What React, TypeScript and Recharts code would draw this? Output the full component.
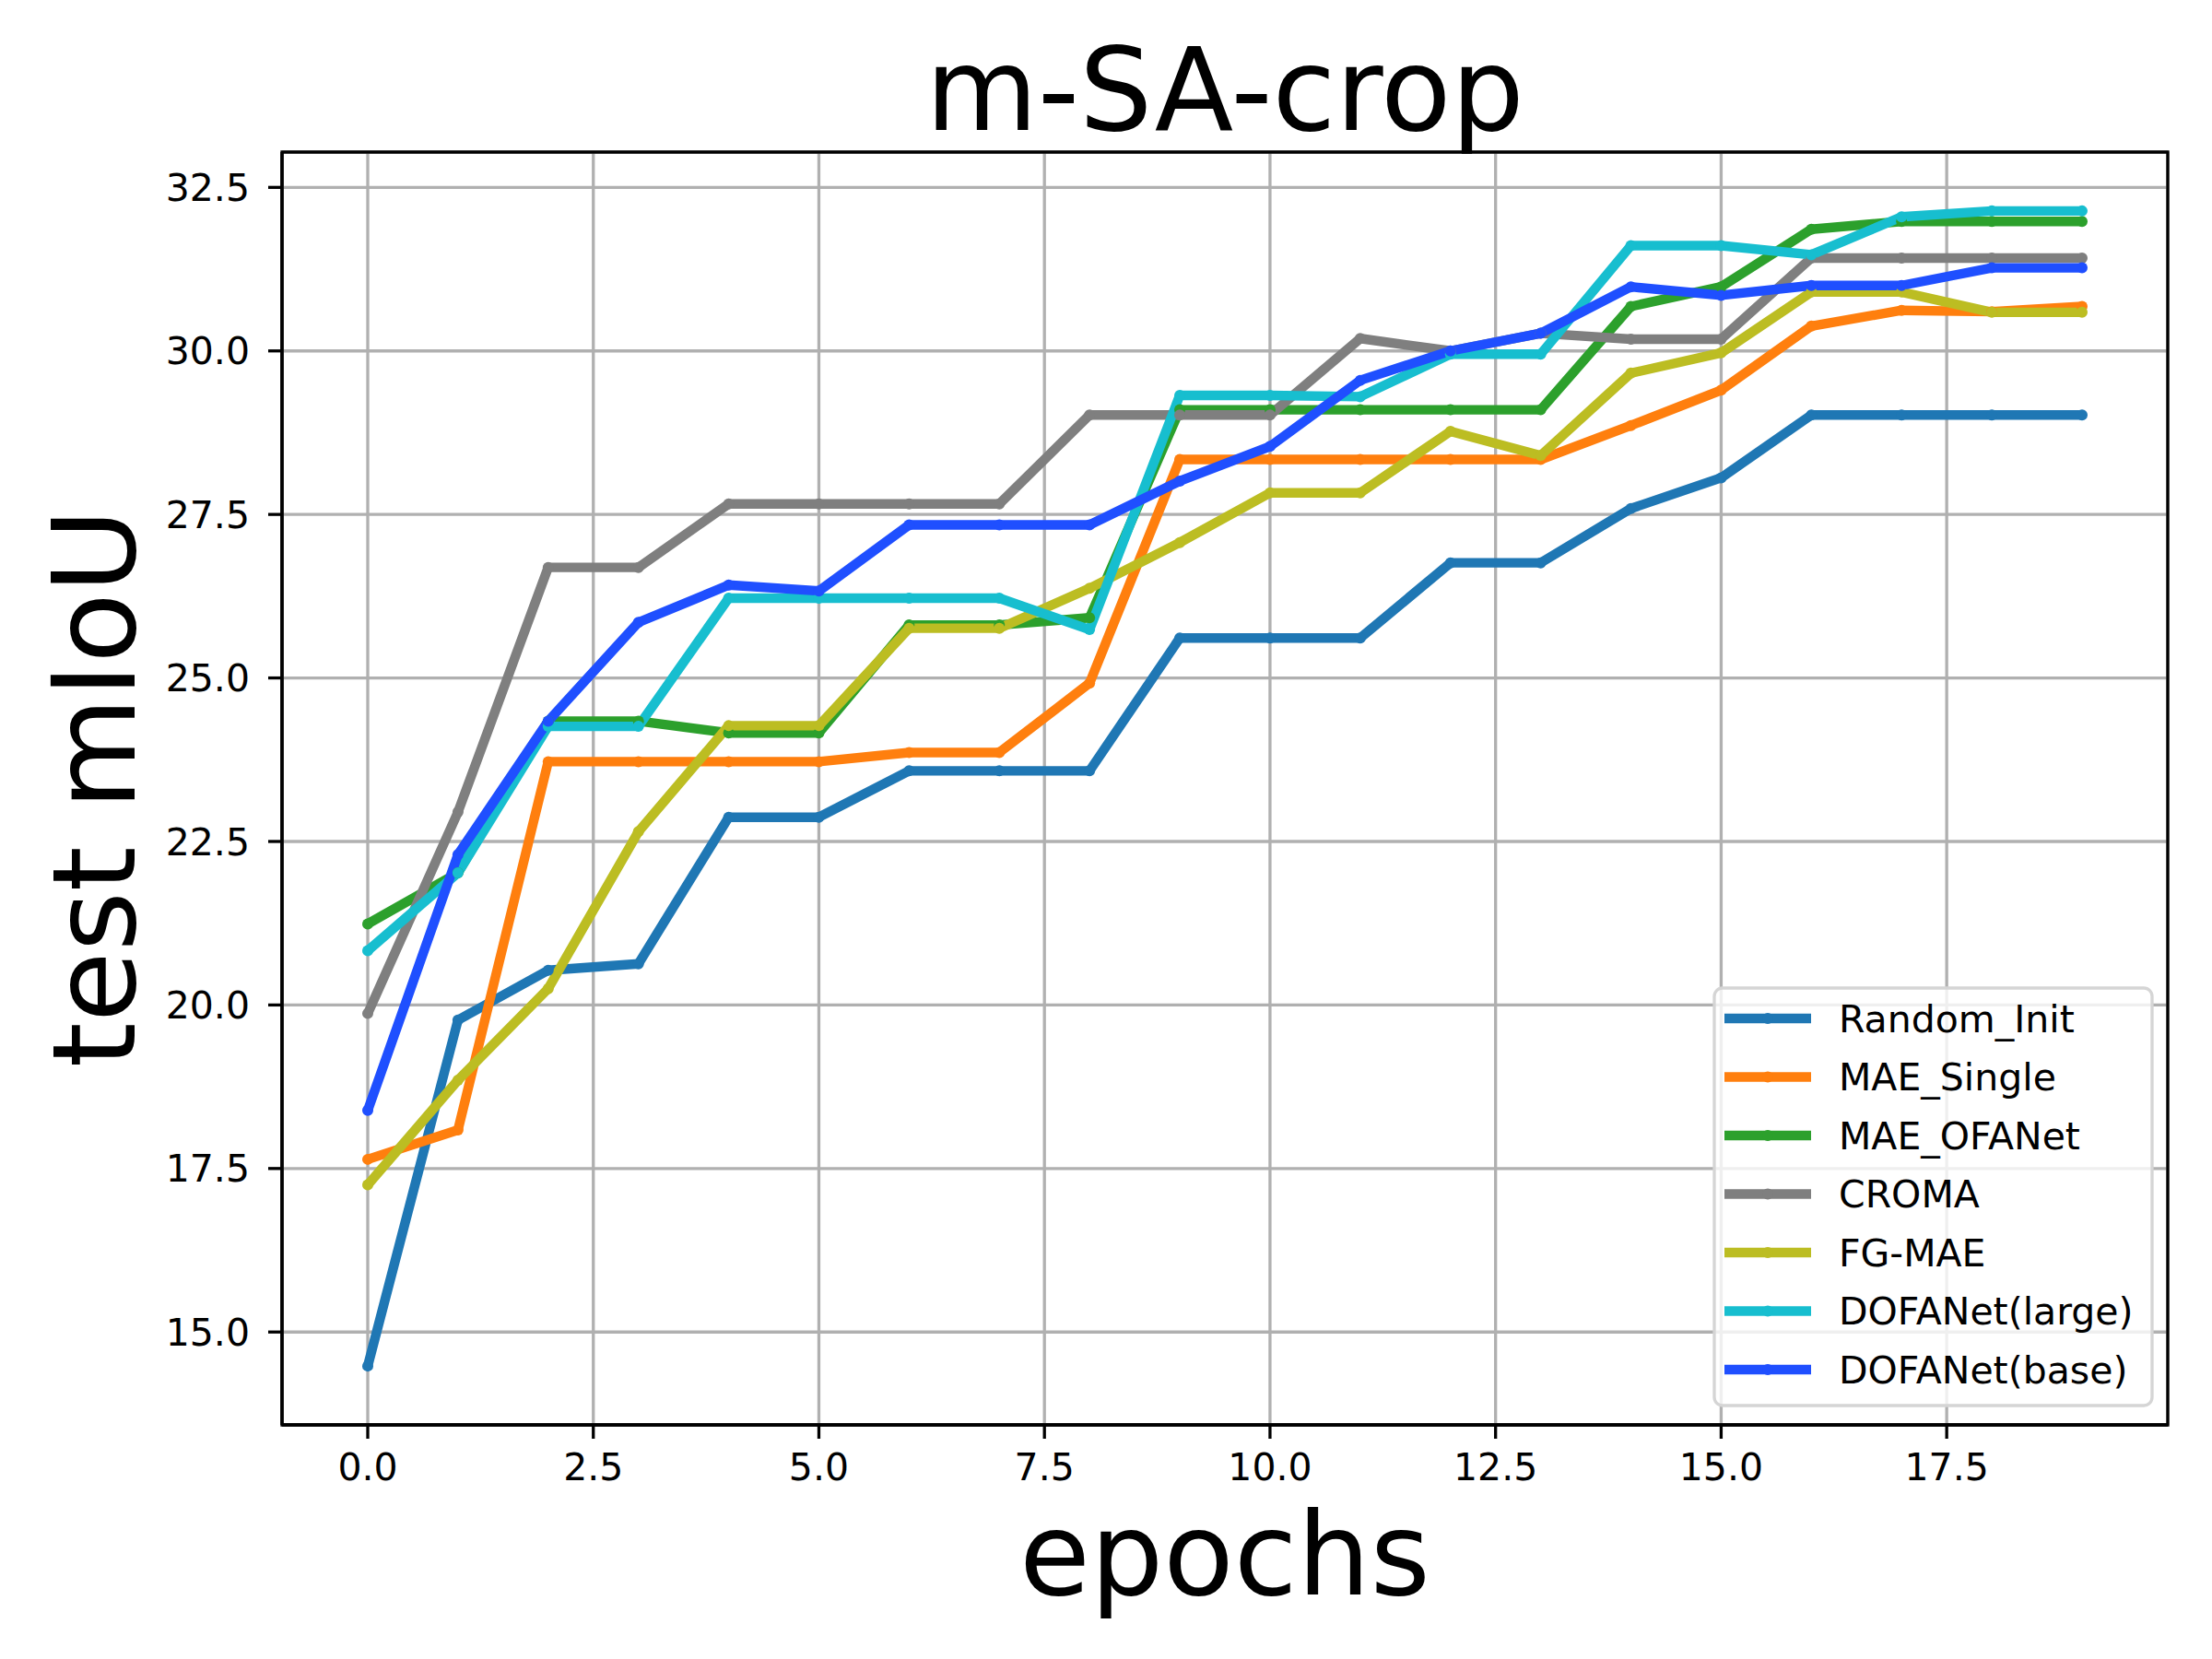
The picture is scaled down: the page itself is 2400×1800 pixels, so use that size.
import { CartesianGrid, Line, LineChart, ReferenceArea, XAxis, YAxis } from "recharts"

const epochs = Array.from({ length: 20 }, (_, i) => i)

const randomInit = [14.48, 19.77, 20.53, 20.63, 22.87, 22.87, 23.58, 23.58, 23.58, 25.61, 25.61, 25.61, 26.76, 26.76, 27.59, 28.06, 29.02, 29.02, 29.02, 29.02]
const maeSingle = [17.64, 18.09, 23.72, 23.72, 23.72, 23.72, 23.86, 23.86, 24.92, 28.34, 28.34, 28.34, 28.34, 28.34, 28.86, 29.4, 30.38, 30.62, 30.6, 30.68]
const maeOfanet = [21.24, 22.02, 24.34, 24.34, 24.16, 24.16, 25.81, 25.81, 25.92, 29.1, 29.1, 29.1, 29.1, 29.1, 30.68, 30.98, 31.86, 31.98, 31.98, 31.98]
const croma = [19.87, 22.95, 26.69, 26.69, 27.66, 27.66, 27.66, 27.66, 29.02, 29.02, 29.02, 30.19, 30.0, 30.27, 30.18, 30.18, 31.42, 31.42, 31.42, 31.42]
const fgMae = [17.25, 18.85, 20.25, 22.65, 24.27, 24.27, 25.76, 25.76, 26.37, 27.07, 27.83, 27.83, 28.77, 28.4, 29.66, 29.97, 30.9, 30.9, 30.59, 30.59]
const dofaLarge = [20.83, 22.02, 24.26, 24.26, 26.22, 26.22, 26.22, 26.22, 25.74, 29.32, 29.32, 29.3, 29.95, 29.95, 31.61, 31.61, 31.47, 32.05, 32.14, 32.14]
const dofaBase = [18.39, 22.3, 24.34, 25.85, 26.42, 26.33, 27.34, 27.34, 27.34, 28.01, 28.54, 29.55, 30.0, 30.27, 30.98, 30.85, 31.0, 31.0, 31.27, 31.27]

const xTicks = [0, 2.5, 5, 7.5, 10, 12.5, 15, 17.5]
const yTicks = [15, 17.5, 20, 22.5, 25, 27.5, 30, 32.5]

const series = [
  { key: "Random_Init", values: randomInit, color: "#1f77b4" },
  { key: "MAE_Single", values: maeSingle, color: "#ff7f0e" },
  { key: "MAE_OFANet", values: maeOfanet, color: "#2ca02c" },
  { key: "CROMA", values: croma, color: "#7f7f7f" },
  { key: "FG-MAE", values: fgMae, color: "#bcbd22" },
  { key: "DOFANet(large)", values: dofaLarge, color: "#17becf" },
  { key: "DOFANet(base)", values: dofaBase, color: "#1f4fff" },
]

const data = epochs.map((epoch, i) => {
  const row: Record<string, number> = { epoch }
  series.forEach((s) => {
    row[s.key] = s.values[i]
  })
  return row
})

const font = "DejaVu Sans"
const X_DOMAIN = [-0.95, 19.95]
const Y_DOMAIN = [13.58, 33.04]

export default function App() {
  return (
    <div style={{ position: "absolute", left: 0, top: 0, width: 2400, height: 1800, background: "#fff", fontFamily: font }}>
      <LineChart
        width={2400}
        height={1800}
        data={data}
        margin={{ top: 165, right: 48, bottom: 104, left: 156 }}
      >
        <CartesianGrid stroke="#b0b0b0" strokeWidth={3.3} />
        <XAxis
          dataKey="epoch"
          type="number"
          domain={X_DOMAIN}
          ticks={xTicks}
          allowDataOverflow
          height={150}
          tickFormatter={(v) => v.toFixed(1)}
          tick={{ fill: "#000", fontSize: 41, fontFamily: font }}
          tickSize={15}
          tickMargin={16}
          stroke="#000"
          strokeWidth={3.3}
        />
        <YAxis
          type="number"
          domain={Y_DOMAIN}
          ticks={yTicks}
          allowDataOverflow
          width={150}
          tickFormatter={(v) => v.toFixed(1)}
          tick={{ fill: "#000", fontSize: 41, fontFamily: font }}
          tickSize={15}
          tickMargin={20}
          stroke="#000"
          strokeWidth={3.3}
        />
        <ReferenceArea
          x1={X_DOMAIN[0]}
          x2={X_DOMAIN[1]}
          y1={Y_DOMAIN[0]}
          y2={Y_DOMAIN[1]}
          fill="none"
          stroke="#000"
          strokeWidth={3.3}
        />
        {series.map((s) => (
          <Line
            key={s.key}
            dataKey={s.key}
            stroke={s.color}
            strokeWidth={10.4}
            strokeLinejoin="round"
            dot={{ r: 6, fill: s.color, stroke: "none", strokeWidth: 0 }}
            activeDot={false}
            isAnimationActive={false}
          />
        ))}
      </LineChart>
      <svg width={2400} height={1800} style={{ position: "absolute", left: 0, top: 0, pointerEvents: "none" }}>
        <text x={1329} y={141} textAnchor="middle" fontSize={125} fontFamily={font} fill="#000">
          m-SA-crop
        </text>
        <text x={1329} y={1730} textAnchor="middle" fontSize={125} fontFamily={font} fill="#000">
          epochs
        </text>
        <text
          x={146}
          y={855}
          textAnchor="middle"
          fontSize={125}
          fontFamily={font}
          fill="#000"
          transform="rotate(-90 146 855)"
        >
          test mIoU
        </text>
        <rect x={1860} y={1072} width={475} height={453} rx={9} fill="rgba(255,255,255,0.8)" stroke="#d5d5d5" strokeWidth={3.3} />
        {series.map((s, i) => {
          const cy = 1105 + i * 63.5
          return (
            <g key={s.key}>
              <line x1={1871} x2={1965} y1={cy} y2={cy} stroke={s.color} strokeWidth={10.4} />
              <circle cx={1918} cy={cy} r={6} fill={s.color} />
              <text x={1995} y={cy} dy="0.36em" fontSize={41} fontFamily={font} fill="#000">
                {s.key}
              </text>
            </g>
          )
        })}
      </svg>
    </div>
  )
}
